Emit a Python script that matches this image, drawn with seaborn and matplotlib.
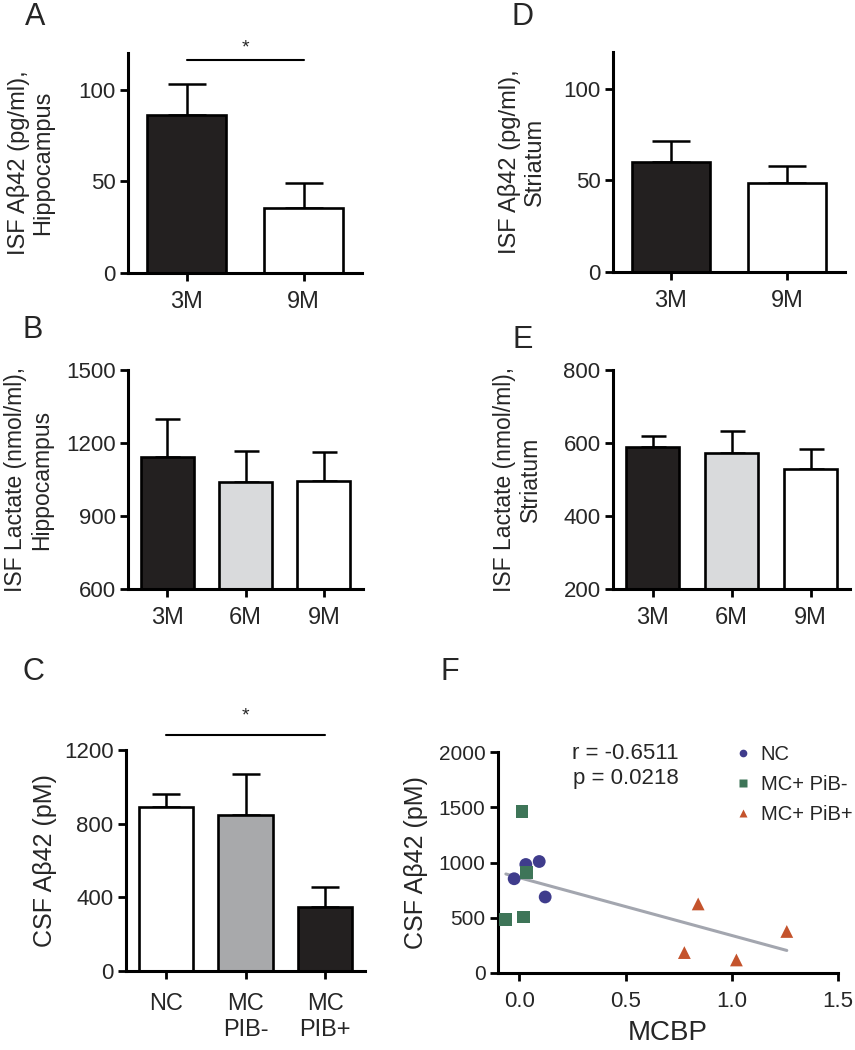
import numpy as np
import pandas as pd
import matplotlib
matplotlib.use("Agg")
import matplotlib.pyplot as plt
import seaborn as sns

sns.set_theme(style="ticks")
plt.rcParams['font.family'] = ['Liberation Sans', 'DejaVu Sans']

# ---------------- data ----------------
# Panel A: ISF Abeta42 hippocampus
a_cats = ["3M", "9M"]
a_vals = [86, 35.5]
a_errs = [17, 13.5]
# Panel D: ISF Abeta42 striatum
d_cats = ["3M", "9M"]
d_vals = [60, 48.4]
d_errs = [11.5, 9.2]
# Panel B: ISF lactate hippocampus
b_cats = ["3M", "6M", "9M"]
b_vals = [1142, 1040, 1044]
b_errs = [157, 127, 117]
# Panel E: ISF lactate striatum
e_cats = ["3M", "6M", "9M"]
e_vals = [589, 573, 529]
e_errs = [31, 60, 55]
# Panel C: CSF Abeta42
c_cats = ["NC", "MC\nPIB-", "MC\nPIB+"]
c_vals = [893, 848, 345]
c_errs = [70, 222, 112]
# Panel F: scatter
f_nc_x = [-0.024, 0.031, 0.094, 0.122]
f_nc_y = [853, 982, 1009, 688]
f_neg_x = [0.0125, 0.034, -0.063, 0.019]
f_neg_y = [1459, 912, 485, 506]
f_pos_x = [0.842, 0.777, 1.022, 1.259]
f_pos_y = [625, 185, 118, 376]
f_groups = ["NC", "MC+ PiB-", "MC+ PiB+"]

W, H = 855, 1050
fig = plt.figure(figsize=(W / 100, H / 100), dpi=100)


def add_ax(l, t, r, b):
    return fig.add_axes([l / W, 1 - b / H, (r - l) / W, (b - t) / H])


BLACK = "#231f20"
LIGHT = "#d9dadc"
MID = "#a7a9ac"
WHITE = "#ffffff"
LW = 1.9


def style_axes(ax, ytick_fs=16, xtick_fs=17):
    sns.despine(ax=ax)
    for s in ["left", "bottom"]:
        ax.spines[s].set_linewidth(2.2)
        ax.spines[s].set_color("black")
    ax.tick_params(axis="both", direction="out", length=6, width=2.0, color="black")
    ax.tick_params(axis="y", labelsize=ytick_fs, pad=3)
    ax.tick_params(axis="x", labelsize=xtick_fs, pad=7)
    ax.set_facecolor("white")


def bar_panel(ax, cats, vals, errs, colors, ylim, yticks, capsize):
    df = pd.DataFrame({"cat": cats, "val": vals})
    sns.barplot(data=df, x="cat", y="val", hue="cat", palette=dict(zip(cats, colors)),
                legend=False, width=0.68, edgecolor="black", linewidth=LW, ax=ax,
                errorbar=None, zorder=2)
    n = len(cats)
    ax.errorbar(np.arange(n), vals, yerr=[np.zeros(n), errs], fmt="none",
                ecolor="black", elinewidth=1.8, capsize=capsize, capthick=1.8, zorder=1)
    ax.set_ylim(*ylim)
    ax.set_yticks(yticks)
    ax.set_xlim(-0.5, n - 0.5)
    ax.set_xlabel("")
    style_axes(ax)


# ---- A ----
axA = add_ax(128, 53, 362, 273)
bar_panel(axA, a_cats, a_vals, a_errs, [BLACK, WHITE], (0, 120), [0, 50, 100], 14)
axA.set_ylabel("ISF Aβ42 (pg/ml),\nHippocampus", fontsize=17, linespacing=1.15)
axA.yaxis.set_label_coords(-0.315, 0.5)
axA.plot([0, 1], [116, 116], color="black", lw=1.5, clip_on=False)
axA.text(0.5, 123, "*", ha="center", va="center", fontsize=14, clip_on=False)

# ---- D ----
axD = add_ax(613, 52, 845, 272)
bar_panel(axD, d_cats, d_vals, d_errs, [BLACK, WHITE], (0, 120), [0, 50, 100], 14)
axD.set_ylabel("ISF Aβ42 (pg/ml),\nStriatum", fontsize=17, linespacing=1.15)
axD.yaxis.set_label_coords(-0.29, 0.5)

# ---- B ----
axB = add_ax(128, 370, 363, 589)
bar_panel(axB, b_cats, b_vals, b_errs, [BLACK, LIGHT, WHITE], (600, 1500),
          [600, 900, 1200, 1500], 9)
axB.set_ylabel("ISF Lactate (nmol/ml),\nHippocampus", fontsize=16.5, linespacing=1.15)
axB.yaxis.set_label_coords(-0.32, 0.5)

# ---- E ----
axE = add_ax(613, 370, 850, 589)
bar_panel(axE, e_cats, e_vals, e_errs, [BLACK, LIGHT, WHITE], (200, 800),
          [200, 400, 600, 800], 9)
axE.set_ylabel("ISF Lactate (nmol/ml),\nStriatum", fontsize=16.5, linespacing=1.15)
axE.yaxis.set_label_coords(-0.30, 0.5)

# ---- C ----
axC = add_ax(126, 750, 365, 971)
bar_panel(axC, c_cats, c_vals, c_errs, [WHITE, MID, BLACK], (0, 1200),
          [0, 400, 800, 1200], 10)
axC.set_ylabel("CSF Aβ42 (pM)", fontsize=18)
axC.yaxis.set_label_coords(-0.29, 0.5)
axC.tick_params(axis="x", pad=10)
for lab in axC.get_xticklabels():
    lab.set_linespacing(1.25)
    lab.set_verticalalignment("top")
axC.plot([0, 2], [1282, 1282], color="black", lw=1.5, clip_on=False)
axC.text(1, 1385, "*", ha="center", va="center", fontsize=14, clip_on=False)

# ---- F ----
axF = add_ax(498, 752, 838, 973)
fdf = pd.DataFrame({
    "MCBP": f_nc_x + f_neg_x + f_pos_x,
    "CSF": f_nc_y + f_neg_y + f_pos_y,
    "group": [f_groups[0]] * len(f_nc_x) + [f_groups[1]] * len(f_neg_x) + [f_groups[2]] * len(f_pos_x),
})
pal = {"NC": "#3f3c8c", "MC+ PiB-": "#3e7558", "MC+ PiB+": "#c4532c"}
mk = {"NC": "o", "MC+ PiB-": "s", "MC+ PiB+": "^"}
sns.regplot(data=fdf, x="MCBP", y="CSF", ci=None, scatter=False, ax=axF,
            line_kws=dict(color="#a3a6af", lw=2.2), truncate=True)
sns.scatterplot(data=fdf, x="MCBP", y="CSF", hue="group", style="group",
                palette=pal, markers=mk, s=85, edgecolor="none", ax=axF, zorder=3)
axF.set_xlim(-0.1, 1.5)
axF.set_ylim(0, 2000)
axF.set_xticks([0, 0.5, 1.0, 1.5])
axF.set_xticklabels(["0.0", "0.5", "1.0", "1.5"])
axF.set_yticks([0, 500, 1000, 1500, 2000])
style_axes(axF, ytick_fs=15, xtick_fs=16)
axF.set_xlabel("MCBP", fontsize=20, labelpad=6)
axF.set_ylabel("CSF Aβ42 (pM)", fontsize=18)
axF.yaxis.set_label_coords(-0.205, 0.5)
axF.legend(title=None, frameon=False, fontsize=14.5, markerscale=0.6,
           loc="upper left", bbox_to_anchor=(0.66, 1.07), handletextpad=0.3,
           labelspacing=0.55, borderaxespad=0, handlelength=1.2)
axF.text(0.375, 0.935, "r = -0.6511\np = 0.0218", transform=axF.transAxes,
         ha="center", va="center", fontsize=16, linespacing=1.25)

# ---- panel letters ----
for letter, (x, y) in {"A": (35, 17), "D": (523, 17), "B": (33, 330),
                       "E": (523, 340), "C": (33, 672), "F": (450, 672)}.items():
    fig.text(x / W, 1 - y / H, letter, ha="center", va="center", fontsize=22)

fig.savefig("out.png", dpi=100, facecolor="white")
